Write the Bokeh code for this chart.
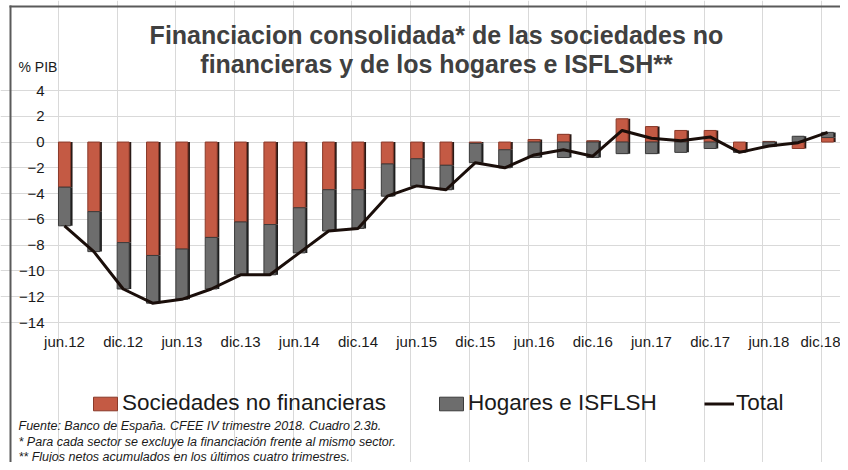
import numpy as np
from bokeh.plotting import figure
from bokeh.models import (ColumnDataSource, Label, Legend, LegendItem, FixedTicker,
                          BoxAnnotation, Range1d)
from bokeh.embed import file_html
from bokeh.resources import INLINE

# ---- data (% PIB, quarterly jun.12 .. dic.18) ----
quarters = ["jun.12", "sep.12", "dic.12", "mar.13", "jun.13", "sep.13", "dic.13",
            "mar.14", "jun.14", "sep.14", "dic.14", "mar.15", "jun.15", "sep.15",
            "dic.15", "mar.16", "jun.16", "sep.16", "dic.16", "mar.17", "jun.17",
            "sep.17", "dic.17", "mar.18", "jun.18", "sep.18", "dic.18"]
tick_labels = ["jun.12", "dic.12", "jun.13", "dic.13", "jun.14", "dic.14", "jun.15",
               "dic.15", "jun.16", "dic.16", "jun.17", "dic.17", "jun.18", "dic.18"]
sociedades = [-3.5, -5.4, -7.8, -8.8, -8.3, -7.4, -6.2, -6.4, -5.1, -3.7, -3.7, -1.7,
              -1.3, -1.8, -0.1, -0.6, 0.2, 0.6, 0.1, 1.8, 1.2, 0.9, 0.9, -0.7, 0.05,
              -0.5, 0.35]
hogares = [-3.0, -3.1, -3.6, -3.7, -3.9, -4.0, -4.1, -3.9, -3.5, -3.2, -3.0, -2.5,
           -2.1, -1.9, -1.5, -1.4, -1.2, -1.2, -1.2, -0.9, -0.9, -0.8, -0.5, -0.1,
           -0.35, 0.45, 0.4]
y_ticks = [-14, -12, -10, -8, -6, -4, -2, 0, 2, 4]

# ---- derived stacking ----
s = np.array(sociedades)
h = np.array(hogares)
x = np.arange(len(quarters))
s_bot = np.zeros_like(s)
s_top = s
h_bot = np.where(np.sign(h) == np.sign(s), s, 0.0)
h_top = h_bot + h
total = s + h

src = ColumnDataSource(dict(x=x, xs=x + 0.07, q=quarters, s_bot=s_bot, s_top=s_top,
                            h_bot=h_bot, h_top=h_top, total=total))

# ---- layout: the data window occupies pixels (58..835, 90..322) of the canvas ----
W, H = 840, 462
PX0, PX1, PY0, PY1 = 58, 835, 90, 322
X_LO, X_HI = -0.204, 26.27
Y_LO, Y_HI = y_ticks[0], y_ticks[-1]
kx = (PX1 - PX0) / (X_HI - X_LO)
ky = (PY1 - PY0) / (Y_HI - Y_LO)
xr = Range1d(X_LO - PX0 / kx, X_HI + (W - PX1) / kx)
yr = Range1d(Y_LO - (H - PY1) / ky, Y_HI + PY0 / ky)

p = figure(width=W, height=H, output_backend="svg", toolbar_location=None,
           x_range=xr, y_range=yr, min_border=0, min_border_left=0,
           min_border_right=0, min_border_top=0, min_border_bottom=0)
p.outline_line_color = None
p.background_fill_color = "white"
p.border_fill_color = "white"

# grid
p.ygrid.ticker = FixedTicker(ticks=y_ticks)
p.ygrid.grid_line_color = "#d9d9d9"
p.ygrid.bounds = (X_LO, X_HI)
p.xgrid.ticker = FixedTicker(ticks=[X_LO + 2 * k for k in range(len(tick_labels))])
p.xgrid.grid_line_color = "#d9d9d9"
p.xgrid.bounds = (Y_LO, Y_HI)

# axes (drawn at the edges of the data window)
p.xaxis.ticker = FixedTicker(ticks=[2 * k for k in range(len(tick_labels))])
p.xaxis.major_label_overrides = {2 * k: lab for k, lab in enumerate(tick_labels)}
p.xaxis.fixed_location = Y_LO
p.yaxis.ticker = FixedTicker(ticks=y_ticks)
p.yaxis.fixed_location = X_LO
for ax in (p.xaxis, p.yaxis):
    ax.axis_line_color = None
    ax.major_tick_line_color = None
    ax.minor_tick_line_color = None
    ax.major_tick_out = 0
    ax.major_tick_in = 0
    ax.major_label_text_font = "Liberation Sans"
    ax.major_label_text_font_size = "15px"
    ax.major_label_text_color = "#1a1a1a"
p.xaxis.major_label_standoff = 10
p.yaxis.major_label_standoff = 14

# bars (with a thin dark shadow on the right, like the bevelled original)
BW = 0.41
p.vbar(x="xs", width=BW, bottom="s_bot", top="s_top", source=src,
       fill_color="#2a1a16", line_color=None)
p.vbar(x="xs", width=BW, bottom="h_bot", top="h_top", source=src,
       fill_color="#1e1e1e", line_color=None)
r_soc = p.vbar(x="x", width=BW, bottom="s_bot", top="s_top", source=src,
               fill_color="#c45a44", line_color="#8a3a2a", line_width=1)
r_hog = p.vbar(x="x", width=BW, bottom="h_bot", top="h_top", source=src,
               fill_color="#6d6d6d", line_color="#3c3c3c", line_width=1)
r_tot = p.line(x="x", y="total", source=src, line_color="#1a0e0a", line_width=3,
               line_join="round")

# legends (one per item, placed like the original)
def mk_legend(label, rend, left, center_top):
    lg = Legend(items=[LegendItem(label=label, renderers=[rend])],
                location=(left, H - center_top - 9),
                orientation="horizontal", glyph_width=30, glyph_height=17,
                label_height=18, label_standoff=2, padding=0, margin=0, spacing=0,
                border_line_alpha=0, background_fill_alpha=0,
                label_text_font="Liberation Sans", label_text_font_size="22.5px",
                label_text_color="#1a1a1a")
    p.add_layout(lg)

mk_legend("Sociedades no financieras", r_soc, 90, 407)
mk_legend("Hogares e ISFLSH", r_hog, 436, 407)
mk_legend("Total", r_tot, 704, 407)

# titles and notes (positions in pixels from the top-left)
def lab(text, xx, ytop, size, bold=False, italic=False, align="left", color="#1a1a1a"):
    style = "bold" if bold else ("italic" if italic else "normal")
    p.add_layout(Label(x=xx, y=H - ytop, x_units="screen", y_units="screen", text=text,
                       text_font="Liberation Sans", text_font_size=size,
                       text_font_style=style, text_align=align,
                       text_baseline="middle", text_color=color))

lab("Financiacion consolidada* de las sociedades no", 436, 34, "25px",
    bold=True, align="center", color="#404040")
lab("financieras y de los hogares e ISFLSH**", 436, 63, "25px",
    bold=True, align="center", color="#404040")
lab("% PIB", 18, 66, "14px")
lab("Fuente: Banco de España. CFEE IV trimestre 2018. Cuadro 2.3b.", 18, 425,
    "12.5px", italic=True)
lab("* Para cada sector se excluye la financiación frente al mismo sector.", 18, 441,
    "12.5px", italic=True)
lab("** Flujos netos acumulados en los últimos cuatro trimestres.", 18, 456,
    "12.5px", italic=True)

# outer frame lines (left and top)
def box(l, r, t, b):
    p.add_layout(BoxAnnotation(left=l, right=r, top=H - t, bottom=H - b,
                               left_units="screen", right_units="screen",
                               top_units="screen", bottom_units="screen",
                               fill_color="#5a5a5a", fill_alpha=1, line_color=None))

box(9, 11, 5, H)
box(9, W, 5, 7)

open("out.html", "w").write(file_html(p, INLINE))
